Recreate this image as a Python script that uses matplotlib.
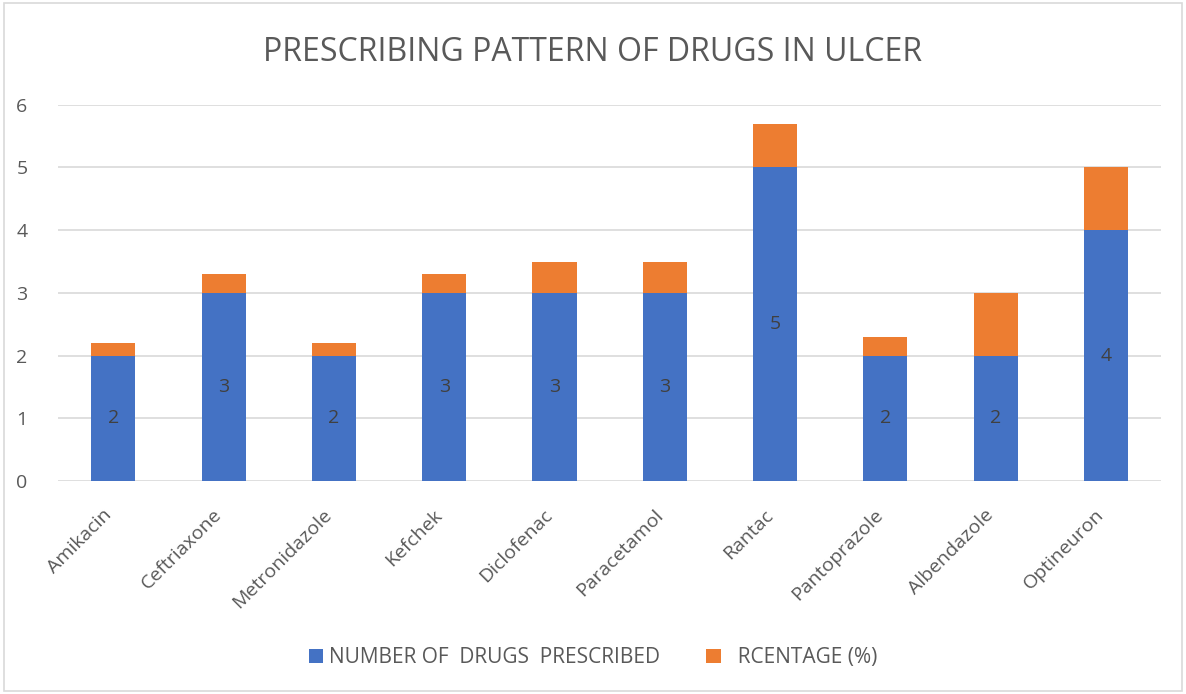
import matplotlib
matplotlib.use('Agg')
import matplotlib.pyplot as plt
import matplotlib.transforms as mtransforms
from matplotlib.patches import Rectangle

plt.rcParams['font.family'] = ['Open Sans', 'DejaVu Sans']

drugs = ['Amikacin', 'Ceftriaxone', 'Metronidazole', 'Kefchek', 'Diclofenac',
         'Paracetamol', 'Rantac', 'Pantoprazole', 'Albendazole', 'Optineuron']
number_prescribed = [2, 3, 2, 3, 3, 3, 5, 2, 2, 4]
percentage = [0.2, 0.3, 0.2, 0.3, 0.5, 0.5, 0.7, 0.3, 1.0, 1.0]

blue = '#4472C4'
orange = '#ED7D31'
text_col = '#595959'

fig = plt.figure(figsize=(11.86, 6.94), dpi=100)
fig.patches.append(Rectangle((0.003, 0.004), 0.994, 0.992, transform=fig.transFigure,
                             fill=False, edgecolor='#D9D9D9', linewidth=1.2))
ax = fig.add_axes([0.049, 0.307, 0.930, 0.542])

x = range(len(drugs))
b1 = ax.bar(x, number_prescribed, width=0.4, color=blue, zorder=3,
            label='NUMBER OF  DRUGS  PRESCRIBED')
ax.bar(x, percentage, width=0.4, bottom=number_prescribed, color=orange, zorder=3,
       label='  RCENTAGE (%)')
ax.bar_label(b1, labels=[str(v) for v in number_prescribed], label_type='center',
             color='#404040', fontsize=14)

ax.set_xlim(-0.5, len(drugs) - 0.5)
ax.set_ylim(0, 6)
ax.set_yticks(range(7))
ax.grid(axis='y', color='#D9D9D9', linewidth=1.2, zorder=0)
for s in ax.spines.values():
    s.set_visible(False)
ax.tick_params(length=0, labelsize=14, colors=text_col)
ax.tick_params(axis='y', pad=22)
ax.tick_params(axis='x', pad=10)
ax.set_xticks(list(x))
ax.set_xticklabels(drugs, rotation=45, ha='right', rotation_mode='anchor')
shift = mtransforms.ScaledTranslation(-0.11, -0.11, fig.dpi_scale_trans)
for lbl in ax.get_xticklabels():
    lbl.set_transform(lbl.get_transform() + shift)

fig.text(0.5, 0.925, 'PRESCRIBING PATTERN OF DRUGS IN ULCER', ha='center', va='center',
         fontsize=23, color=text_col)
fig.legend(loc='center', bbox_to_anchor=(0.5, 0.052), ncol=2, frameon=False,
           fontsize=15, labelcolor=text_col, handlelength=0.7, handleheight=0.7,
           columnspacing=2.2, handletextpad=0.3)

fig.savefig('out.png', dpi=100)
